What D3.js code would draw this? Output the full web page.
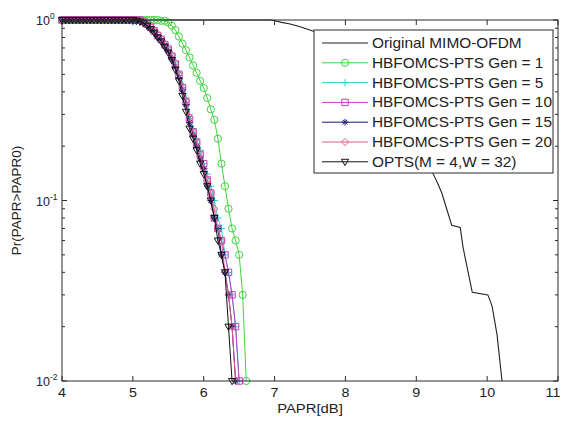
<!DOCTYPE html>
<html>
<head>
<meta charset="utf-8">
<script src="https://cdnjs.cloudflare.com/ajax/libs/d3/7.8.5/d3.min.js"></script>
<style>
  html, body { margin: 0; padding: 0; background: #fff; }
  svg { display: block; font-family: "Liberation Sans", Arial, Helvetica, sans-serif; }
</style>
</head>
<body>
<svg id="chart" width="563" height="423"></svg>
<script>
// PAPR threshold grid (dB) shared by the reduction schemes
const papr = [4.00, 4.05, 4.10, 4.15, 4.20, 4.25, 4.30, 4.35, 4.40, 4.45,
              4.50, 4.55, 4.60, 4.65, 4.70, 4.75, 4.80, 4.85, 4.90, 4.95,
              5.00, 5.05, 5.10, 5.15, 5.20, 5.25, 5.30, 5.35, 5.40, 5.45,
              5.50, 5.55, 5.60, 5.65, 5.70, 5.75, 5.80, 5.85, 5.90, 5.95,
              6.00, 6.05, 6.10, 6.15, 6.20, 6.25, 6.30, 6.35, 6.40, 6.45,
              6.50, 6.55, 6.60];

// CCDF Pr(PAPR > PAPR0) for each scheme on the grid above (null = below 1e-2)
const gen1 = [1, 1, 1, 1, 1, 1, 1, 1, 1, 1,
              1, 1, 1, 1, 1, 1, 1, 1, 1, 1,
              1, 1, 1, 1, 1, 1, 1, 1, 0.99, 0.99,
              0.97, 0.93, 0.88, 0.81, 0.74, 0.68, 0.62, 0.56, 0.51, 0.46,
              0.42, 0.37, 0.32, 0.28, 0.22, 0.16, 0.12, 0.09, 0.07, 0.06,
              0.05, 0.03, 0.01];
const gen5 = [1, 1, 1, 1, 1, 1, 1, 1, 1, 1,
              1, 1, 1, 1, 1, 1, 1, 1, 1, 1,
              1, 1, 1, 0.99, 0.96, 0.92, 0.88, 0.83, 0.79, 0.74,
              0.70, 0.64, 0.58, 0.51, 0.44, 0.37, 0.30, 0.25, 0.22, 0.19,
              0.16, 0.14, 0.12, 0.10, 0.08, 0.07, 0.05, 0.04, 0.03, 0.02,
              0.01, null, null];
const gen10 = [1, 1, 1, 1, 1, 1, 1, 1, 1, 1,
               1, 1, 1, 1, 1, 1, 1, 1, 1, 1,
               1, 1, 1, 0.98, 0.95, 0.91, 0.87, 0.82, 0.78, 0.73,
               0.69, 0.63, 0.57, 0.50, 0.42, 0.35, 0.28, 0.24, 0.21, 0.18,
               0.16, 0.13, 0.11, 0.08, 0.07, 0.06, 0.05, 0.04, 0.03, 0.02,
               0.01, null, null];
const gen15 = [1, 1, 1, 1, 1, 1, 1, 1, 1, 1,
               1, 1, 1, 1, 1, 1, 1, 1, 1, 1,
               1, 1, 0.99, 0.97, 0.94, 0.90, 0.86, 0.81, 0.77, 0.72,
               0.67, 0.61, 0.55, 0.48, 0.41, 0.34, 0.27, 0.23, 0.20, 0.17,
               0.15, 0.12, 0.10, 0.08, 0.07, 0.05, 0.04, 0.03, 0.02, 0.01,
               null, null, null];
const gen20 = [1, 1, 1, 1, 1, 1, 1, 1, 1, 1,
               1, 1, 1, 1, 1, 1, 1, 1, 1, 1,
               1, 1, 1, 0.98, 0.95, 0.92, 0.88, 0.84, 0.79, 0.74,
               0.69, 0.64, 0.58, 0.50, 0.43, 0.36, 0.29, 0.24, 0.21, 0.18,
               0.15, 0.13, 0.11, 0.09, 0.07, 0.06, 0.04, 0.03, 0.02, 0.01,
               null, null, null];
const opts = [1, 1, 1, 1, 1, 1, 1, 1, 1, 1,
              1, 1, 1, 1, 1, 1, 1, 1, 1, 1,
              1, 0.99, 0.98, 0.96, 0.93, 0.89, 0.85, 0.80, 0.76, 0.71,
              0.66, 0.60, 0.53, 0.46, 0.38, 0.31, 0.25, 0.22, 0.19, 0.16,
              0.14, 0.12, 0.10, 0.08, 0.06, 0.05, 0.04, 0.02, 0.01, null,
              null, null, null];

// Unreduced MIMO-OFDM signal, sampled on its own PAPR points
const origPapr = [4.00, 6.95, 7.00, 7.10, 7.22, 7.35, 7.57, 7.80, 8.00, 8.30,
                  8.60, 8.90, 9.10, 9.24, 9.30, 9.36, 9.50, 9.62, 9.66, 9.79,
                  10.01, 10.07, 10.14, 10.21];
const origCcdf = [1, 1, 0.99, 0.97, 0.95, 0.92, 0.86, 0.78, 0.68, 0.52,
                  0.38, 0.25, 0.18, 0.14, 0.125, 0.11, 0.073, 0.071, 0.055, 0.031,
                  0.030, 0.026, 0.018, 0.01];

const legendLabels = ["Original MIMO-OFDM", "HBFOMCS-PTS Gen = 1", "HBFOMCS-PTS Gen = 5",
                      "HBFOMCS-PTS Gen = 10", "HBFOMCS-PTS Gen = 15", "HBFOMCS-PTS Gen = 20",
                      "OPTS(M = 4,W = 32)"];
const xTicks = [4, 5, 6, 7, 8, 9, 10, 11];
const yMajor = [1, 0.1, 0.01];
const yExp = ["0", "-1", "-2"];

const svg = d3.select("#chart");
const L = 62, R = 558, T = 20, B = 381;
const x = d3.scaleLinear().domain([4, 11]).range([L, R]);
const y = d3.scaleLog().domain([0.01, 1]).range([B, T]);
const stretch = 1.1; // the lettering is set slightly wide

// marker shapes (relative to the point)
const mk = {
  circle: r => `M${r},0A${r},${r} 0 1,1 ${-r},0A${r},${r} 0 1,1 ${r},0Z`,
  plus: r => `M${-r},0H${r}M0,${-r}V${r}`,
  square: r => `M${-r},${-r}H${r}V${r}H${-r}Z`,
  star: r => { const a = r * 0.72; return `M${-r},0H${r}M0,${-r}V${r}M${-a},${-a}L${a},${a}M${-a},${a}L${a},${-a}`; },
  diamond: r => `M0,${-r * 1.2}L${r * 1.2},0L0,${r * 1.2}L${-r * 1.2},0Z`,
  tri: r => `M${-r},${-r * 0.7}H${r}L0,${r * 1.05}Z`
};

const series = [
  { vals: gen1,  color: "#3ed43e", marker: "circle", r: 3.6 },
  { vals: gen5,  color: "#2fcfcf", marker: "plus",   r: 3.6 },
  { vals: gen10, color: "#c43cc4", marker: "square", r: 3.2 },
  { vals: gen15, color: "#1a1a80", marker: "star",   r: 3.4 },
  { vals: gen20, color: "#dc5f86", marker: "diamond",r: 3.0 },
  { vals: opts,  color: "#111111", marker: "tri",    r: 3.6 }
];

const plot = svg.append("g");
plot.append("defs").append("clipPath").attr("id", "clip")
  .append("rect").attr("x", L - 6).attr("y", T - 6).attr("width", R - L + 12).attr("height", B - T + 12);

const g = plot.append("g").attr("clip-path", "url(#clip)");

// unreduced curve
const origPts = origPapr.map((p, i) => [p, origCcdf[i]]);
g.append("path")
  .attr("d", d3.line().x(d => x(d[0])).y(d => y(d[1]))(origPts))
  .attr("fill", "none").attr("stroke", "#222").attr("stroke-width", 1.1);

series.forEach(s => {
  const pts = papr.map((p, i) => [p, s.vals[i]]).filter(d => d[1] != null);
  g.append("path")
    .attr("d", d3.line().x(d => x(d[0])).y(d => y(d[1]))(pts))
    .attr("fill", "none").attr("stroke", s.color).attr("stroke-width", 1);
  g.selectAll(null).data(pts).enter().append("path")
    .attr("transform", d => `translate(${x(d[0])},${y(d[1])})`)
    .attr("d", mk[s.marker](s.r))
    .attr("fill", "none").attr("stroke", s.color).attr("stroke-width", 1);
});

// axes box and ticks
const axisColor = "#2a2a2a";
svg.append("rect").attr("x", L).attr("y", T).attr("width", R - L).attr("height", B - T)
  .attr("fill", "none").attr("stroke", axisColor).attr("stroke-width", 1);

const ticks = svg.append("g").attr("stroke", axisColor).attr("stroke-width", 1);
xTicks.forEach(t => {
  ticks.append("line").attr("x1", x(t)).attr("x2", x(t)).attr("y1", B).attr("y2", B - 5);
  ticks.append("line").attr("x1", x(t)).attr("x2", x(t)).attr("y1", T).attr("y2", T + 5);
});
const minor = [];
[0.01, 0.1].forEach(dec => { for (let k = 2; k <= 9; k++) minor.push(dec * k); });
minor.forEach(v => {
  ticks.append("line").attr("x1", L).attr("x2", L + 3).attr("y1", y(v)).attr("y2", y(v));
  ticks.append("line").attr("x1", R).attr("x2", R - 3).attr("y1", y(v)).attr("y2", y(v));
});
yMajor.forEach(v => {
  ticks.append("line").attr("x1", L).attr("x2", L + 5).attr("y1", y(v)).attr("y2", y(v));
  ticks.append("line").attr("x1", R).attr("x2", R - 5).attr("y1", y(v)).attr("y2", y(v));
});

const textColor = "#222";
// x tick labels; the last one is pulled in so it stays inside the frame
svg.append("g").selectAll("text").data(xTicks).enter().append("text")
  .attr("transform", d => `translate(${Math.min(x(d), 553)},${B + 16}) scale(${stretch},1)`)
  .attr("text-anchor", "middle")
  .attr("font-size", 13).attr("fill", textColor).text(d => d);

yMajor.forEach((v, i) => {
  svg.append("text").attr("x", L - 12).attr("y", y(v) + 5)
    .attr("text-anchor", "end").attr("font-size", 12.5).attr("fill", textColor).text("10");
  svg.append("text").attr("x", L - 12).attr("y", y(v) - 1)
    .attr("font-size", 8.5).attr("fill", textColor).text(yExp[i]);
});

svg.append("text").attr("transform", `translate(${(L + R) / 2},413) scale(${stretch},1)`)
  .attr("text-anchor", "middle")
  .attr("font-size", 13.5).attr("fill", textColor).text("PAPR[dB]");
svg.append("text").attr("transform", `translate(21,${(T + B) / 2}) rotate(-90)`)
  .attr("text-anchor", "middle").attr("font-size", 13.5).attr("fill", textColor).text("Pr(PAPR>PAPR0)");

// legend
const lg = svg.append("g");
lg.append("rect").attr("x", 314).attr("y", 30).attr("width", 239).attr("height", 143)
  .attr("fill", "#fff").attr("stroke", axisColor).attr("stroke-width", 1);
const legendItems = [{ color: "#222", marker: null }].concat(series);
legendItems.forEach((s, i) => {
  const cy = 43 + i * 19.8;
  lg.append("line").attr("x1", 322).attr("x2", 368).attr("y1", cy).attr("y2", cy)
    .attr("stroke", s.color).attr("stroke-width", 1);
  if (s.marker) {
    lg.append("path").attr("transform", `translate(345,${cy})`).attr("d", mk[s.marker](s.r))
      .attr("fill", "none").attr("stroke", s.color).attr("stroke-width", 1);
  }
  lg.append("text").attr("transform", `translate(372,${cy + 5}) scale(${stretch},1)`)
    .attr("font-size", 14)
    .attr("fill", textColor).text(legendLabels[i]);
});
</script>
</body>
</html>
